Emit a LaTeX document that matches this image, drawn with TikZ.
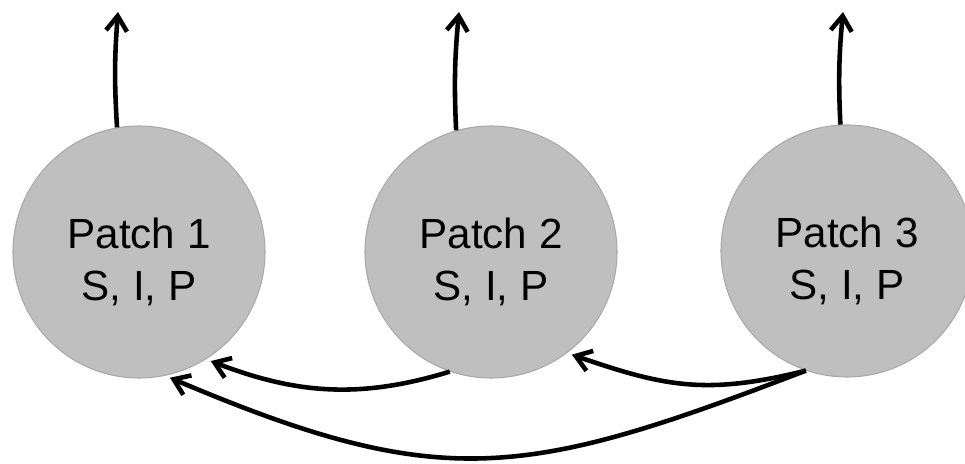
\documentclass[tikz,border=0pt]{standalone}
\usepackage{fontspec}
\setmainfont{Liberation Sans}
\usetikzlibrary{arrows.meta}
\definecolor{patchgray}{HTML}{BFBFBF}
\definecolor{rimgray}{HTML}{A8A8A8}

\begin{document}
\begin{tikzpicture}[
  patch/.style={circle,fill=patchgray,draw=rimgray,line width=0.6pt,minimum size=5.04cm,inner sep=0pt,
    label={[align=center,font=\fontsize{24}{29.6}\selectfont,yshift=-2mm]center:#1}},
  flow/.style={line width=2.6pt,-{Straight Barb[length=3mm,width=4.2mm,line width=2.6pt]}}]
\useasboundingbox (0,0) rectangle (19.3,9.26);

\node[patch={Patch 1\\S, I, P}] (p1) at (2.78,4.22) {};
\node[patch={Patch 2\\S, I, P}] (p2) at (9.82,4.22) {};
\node[patch={Patch 3\\S, I, P}] (p3) at (16.94,4.24) {};

\coordinate (out1) at (2.36,9.02);
\coordinate (out2) at (9.18,9.02);
\coordinate (out3) at (16.86,9.02);

% leaving the patches
\draw[flow] (p1.100) to[bend left=4] (out1);
\draw[flow] (p2.106) to[bend left=4] (out2);
\draw[flow] (p3.93) to[bend left=4] (out3);

% dispersal between patches
\draw[flow,shorten >=1mm] (p2.251) to[out=197,in=-21] (p1.302);
\draw[flow,shorten >=1mm] (p3.251) to[out=194,in=-19,looseness=1.1] (p2.307);
\draw[flow,shorten >=1mm] (p3.251) to[out=201,in=-23,looseness=1.2] (p1.282);

\end{tikzpicture}
\end{document}
